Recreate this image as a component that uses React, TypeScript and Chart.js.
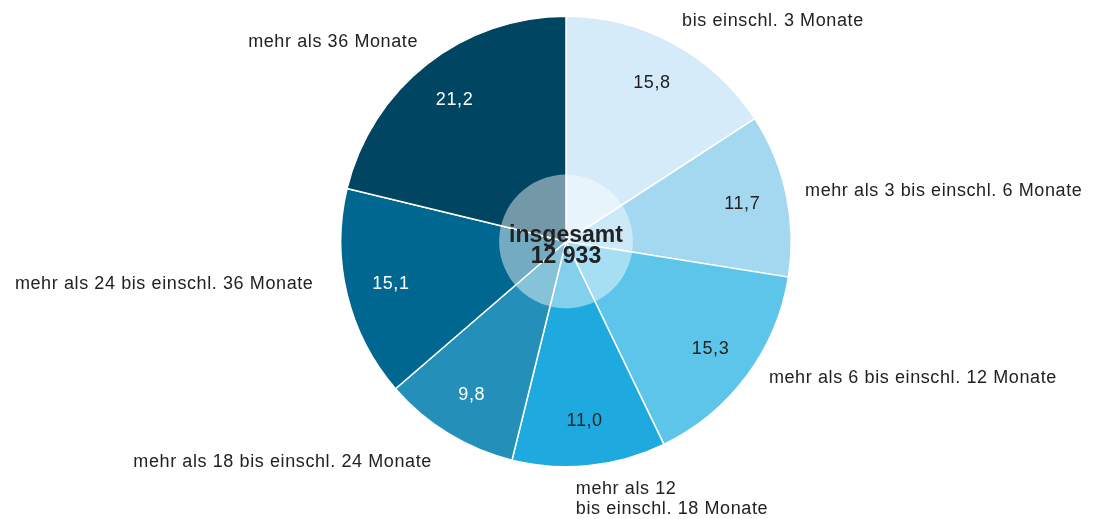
import React, { useEffect, useRef } from "react";
import Chart from "chart.js/auto";

const categories: string[][] = [
  ["bis einschl. 3 Monate"],
  ["mehr als 3 bis einschl. 6 Monate"],
  ["mehr als 6 bis einschl. 12 Monate"],
  ["mehr als 12", "bis einschl. 18 Monate"],
  ["mehr als 18 bis einschl. 24 Monate"],
  ["mehr als 24 bis einschl. 36 Monate"],
  ["mehr als 36 Monate"],
];
const values: number[] = [15.8, 11.7, 15.3, 11.0, 9.8, 15.1, 21.2];
const totalLabel = ["insgesamt", "12 933"];

const colors = ["#d5ebfa", "#a3d8f0", "#5ec5ea", "#1eaadf", "#2490b9", "#006890", "#004562"];
const valueTextColors = ["#222222", "#222222", "#222222", "#222222", "#ffffff", "#ffffff", "#ffffff"];
// small pixel nudges for outside labels (styling only)
const labelNudges: [number, number][] = [
  [2, -10],
  [5, -1],
  [11, -6],
  [-15, 10],
  [-9, 17],
  [-20, -14],
  [0, -11],
];

const FONT = '"Liberation Sans", Arial, sans-serif';

const labelsPlugin = {
  id: "customLabels",
  afterDatasetsDraw(chart: any) {
    const ctx = chart.ctx as CanvasRenderingContext2D;
    const meta = chart.getDatasetMeta(0);
    let cx = 0, cy = 0, outer = 0;
    ctx.save();
    meta.data.forEach((arc: any) => {
      const p = arc.getProps(["x", "y", "outerRadius"], true);
      cx = p.x; cy = p.y; outer = p.outerRadius;
    });
    // center overlay
    const inner = outer * 0.297;
    ctx.beginPath();
    ctx.arc(cx, cy, inner, 0, Math.PI * 2);
    ctx.fillStyle = "rgba(255,255,255,0.45)";
    ctx.fill();

    (ctx as any).letterSpacing = "0.6px";
    meta.data.forEach((arc: any, i: number) => {
      const p = arc.getProps(["x", "y", "startAngle", "endAngle", "outerRadius"], true);
      const mid = (p.startAngle + p.endAngle) / 2;
      // value label
      const rv = p.outerRadius * 0.8;
      ctx.font = `18px ${FONT}`;
      ctx.fillStyle = valueTextColors[i];
      ctx.textAlign = "center";
      ctx.textBaseline = "middle";
      ctx.fillText(values[i].toFixed(1).replace(".", ","), p.x + Math.cos(mid) * rv, p.y + Math.sin(mid) * rv);
      // outside label
      const ro = p.outerRadius + 14;
      const ax = p.x + Math.cos(mid) * ro + labelNudges[i][0];
      const ay = p.y + Math.sin(mid) * ro + labelNudges[i][1];
      ctx.fillStyle = "#222222";
      ctx.textAlign = Math.cos(mid) >= 0 ? "left" : "right";
      categories[i].forEach((line, j) => {
        ctx.fillText(line, ax, ay + j * 20);
      });
    });

    (ctx as any).letterSpacing = "0px";
    ctx.fillStyle = "#222222";
    ctx.textAlign = "center";
    ctx.textBaseline = "alphabetic";
    ctx.font = `bold 23px ${FONT}`;
    ctx.fillText(totalLabel[0], cx, cy + 0.5);
    ctx.fillText(totalLabel[1], cx, cy + 21);
    ctx.restore();
  },
};

export default function App() {
  const ref = useRef<HTMLCanvasElement | null>(null);
  useEffect(() => {
    if (!ref.current) return;
    const chart = new Chart(ref.current, {
      type: "pie",
      data: {
        labels: categories.map((c) => c.join(" ")),
        datasets: [
          {
            data: values,
            backgroundColor: colors,
            borderColor: "#ffffff",
            borderWidth: 1.5,
          },
        ],
      },
      options: {
        responsive: false,
        animation: false,
        layout: { padding: { left: 340, right: 302, top: 15.5, bottom: 51.5 } },
        plugins: { legend: { display: false }, tooltip: { enabled: false } },
      },
      plugins: [labelsPlugin],
    });
    return () => chart.destroy();
  }, []);
  return (
    <div style={{ position: "absolute", left: 0, top: 0, width: 1094, height: 519, background: "#fff" }}>
      <canvas ref={ref} width={1094} height={519} />
    </div>
  );
}
